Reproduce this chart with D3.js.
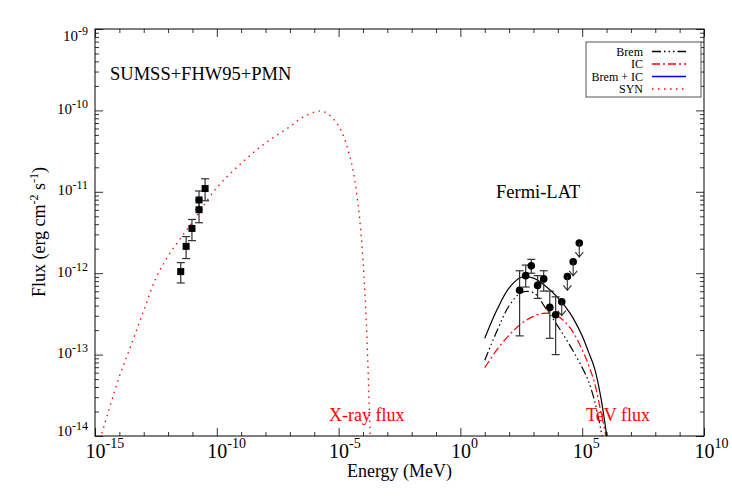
<!DOCTYPE html>
<html>
<head>
<meta charset="utf-8">
<script src="https://cdn.jsdelivr.net/npm/d3@7"></script>
<style>
  body { margin: 0; background: #fff; }
  svg { font-family: "Liberation Serif", "Times New Roman", serif; }
</style>
</head>
<body>
<svg></svg>
<script>
// all values are log10 (energy in MeV, flux in erg cm^-2 s^-1)

// radio points SUMSS+FHW95+PMN
let radioE  = [-11.48, -11.26, -11.02, -10.73, -10.73, -10.48];
let radioF  = [-11.98, -11.67, -11.45, -11.10, -11.22, -10.96];
let radioHi = [-11.87, -11.55, -11.34, -10.99, -11.10, -10.84];
let radioLo = [-12.12, -11.82, -11.60, -11.22, -11.38, -11.11];

// Fermi-LAT points
let fermiE  = [2.43, 2.68, 2.91, 3.17, 3.42, 3.67, 3.91];
let fermiF  = [-12.21, -12.03, -11.91, -12.15, -12.07, -12.42, -12.51];
let fermiHi = [-11.97, -11.90, -11.83, -12.03, -11.97, -12.22, -12.29];
let fermiLo = [-12.77, -12.17, -12.00, -12.31, -12.22, -12.80, -13.00];

// Fermi-LAT upper limits
let ulE = [4.16, 4.39, 4.63, 4.88];
let ulF = [-12.35, -12.04, -11.86, -11.63];

// model curves
let modelE = [1.0, 1.5, 2.0, 2.5, 3.0, 3.5, 4.0, 4.5, 5.0, 5.25, 5.5, 5.75, 6.0, 6.1];
let bremF  = [-13.07, -12.71, -12.40, -12.24, -12.24, -12.43, -12.65, -12.89, -13.16, -13.32, -13.56, -13.90, -14.35, -14.6];
let icF    = [-13.16, -12.94, -12.76, -12.62, -12.53, -12.49, -12.53, -12.67, -12.94, -13.12, -13.34, -13.68, -14.05, -14.3];
let totalF = [-12.80, -12.45, -12.18, -12.05, -12.06, -12.16, -12.30, -12.49, -12.77, -12.96, -13.16, -13.50, -13.98, -14.2];

let synE = [-15.0, -14.75, -14.5, -14.0, -13.5, -13.0, -12.5, -12.0, -11.0, -10.0, -9.0, -8.0, -7.0, -6.5, -6.0, -5.75, -5.5, -5.0, -4.5, -4.2, -4.0, -3.85, -3.75, -3.68];
let synF = [-14.25, -14.0, -13.75, -13.27, -12.87, -12.46, -12.06, -11.79, -11.37, -10.95, -10.65, -10.40, -10.20, -10.09, -10.02, -10.01, -10.03, -10.19, -10.61, -11.16, -11.84, -12.70, -13.56, -14.2];

let xTicks = [-15, -10, -5, 0, 5, 10];
let yTicks = [-14, -13, -12, -11, -10, -9];

let legendNames = ['Brem', 'IC', 'Brem + IC', 'SYN'];

let width = 732;
let height = 496;
let padL = 95, padR = 704, padT = 29, padB = 436;
let red = '#ff0000';

let svg = d3.select('svg').attr('width', width).attr('height', height);

let xScale = d3.scaleLog().domain([1e-15, 1e10]).range([padL, padR]);
let yScale = d3.scaleLog().domain([1e-14, 1e-9]).range([padB, padT]);
let px = (e) => xScale(Math.pow(10, e));
let py = (f) => yScale(Math.pow(10, f));

// clip for the curves
svg.append('clipPath').attr('id', 'plot')
   .append('rect').attr('x', padL).attr('y', padT)
   .attr('width', padR - padL).attr('height', padB - padT);

// ticks
let minorX = d3.range(-15, 11).filter(d => d % 5 !== 0).map(d => Math.pow(10, d));
let majorX = xTicks.map(d => Math.pow(10, d));
let minorY = [];
for (let p = -14; p < -9; p++) {
  for (let m = 2; m < 10; m++) minorY.push(m * Math.pow(10, p));
}
let majorY = yTicks.map(d => Math.pow(10, d));

let addAxis = (axis, tx, ty) => {
  let g = svg.append('g').attr('transform', 'translate(' + tx + ',' + ty + ')').call(axis);
  g.select('.domain').remove();
  g.selectAll('line').attr('stroke', '#333');
  return g;
};

addAxis(d3.axisBottom(xScale).tickValues(minorX).tickSize(-4).tickFormat(''), 0, padB);
addAxis(d3.axisTop(xScale).tickValues(minorX).tickSize(-4).tickFormat(''), 0, padT);
addAxis(d3.axisTop(xScale).tickValues(majorX).tickSize(-8).tickFormat(''), 0, padT);
let gx = addAxis(d3.axisBottom(xScale).tickValues(majorX).tickSize(-8).tickPadding(0), 0, padB);

addAxis(d3.axisLeft(yScale).tickValues(minorY).tickSize(-4).tickFormat(''), padL, 0);
addAxis(d3.axisRight(yScale).tickValues(minorY).tickSize(-4).tickFormat(''), padR, 0);
addAxis(d3.axisRight(yScale).tickValues(majorY).tickSize(-8).tickFormat(''), padR, 0);
let gy = addAxis(d3.axisLeft(yScale).tickValues(majorY).tickSize(-8).tickPadding(0), padL, 0);

// 10^n labels
gx.selectAll('text').each(function(d) {
  let t = d3.select(this);
  let p = Math.round(Math.log10(d));
  t.text('').attr('y', 22).attr('x', -10).attr('dy', null)
   .attr('text-anchor', 'start').attr('font-size', 20).attr('fill', '#000')
   .attr('font-family', '"Liberation Serif", serif');
  t.append('tspan').text('10');
  t.append('tspan').attr('dy', -10).attr('font-size', 14).text(p);
});
gy.selectAll('text').each(function(d) {
  let t = d3.select(this);
  let p = Math.round(Math.log10(d));
  // end labels are kept inside the frame, as in the original
  let base = 3;
  if (p === -9) base = 11;
  if (p === -14) base = -1;
  t.text('').attr('x', -7).attr('dy', null).attr('y', base)
   .attr('text-anchor', 'end').attr('font-size', 15).attr('fill', '#000')
   .attr('font-family', '"Liberation Serif", serif');
  t.append('tspan').text('10');
  t.append('tspan').attr('dy', -6).attr('font-size', 12).text(p);
});

// frame
svg.append('rect').attr('x', padL).attr('y', padT)
   .attr('width', padR - padL).attr('height', padB - padT)
   .attr('fill', 'none').attr('stroke', '#000').attr('stroke-width', 1);

// curves
let line = d3.line()
  .x(d => px(d[0]))
  .y(d => py(d[1]))
  .curve(d3.curveCatmullRom);

let curves = svg.append('g').attr('clip-path', 'url(#plot)');
curves.append('path').datum(d3.zip(synE, synF))
  .attr('d', line).attr('fill', 'none').attr('stroke', red)
  .attr('stroke-width', 1.3).attr('stroke-dasharray', '1.5,4.5');
curves.append('path').datum(d3.zip(modelE, icF))
  .attr('d', line).attr('fill', 'none').attr('stroke', red)
  .attr('stroke-width', 1.2).attr('stroke-dasharray', '8,3,2,3');
curves.append('path').datum(d3.zip(modelE, bremF))
  .attr('d', line).attr('fill', 'none').attr('stroke', '#000')
  .attr('stroke-width', 1.2).attr('stroke-dasharray', '9,3,1.5,3,1.5,3,1.5,3');
curves.append('path').datum(d3.zip(modelE, totalF))
  .attr('d', line).attr('fill', 'none').attr('stroke', '#000')
  .attr('stroke-width', 1.2);

// error bars
let drawErrors = (E, Hi, Lo) => {
  let g = svg.append('g').attr('stroke', '#333').attr('stroke-width', 1.2);
  E.forEach((e, i) => {
    let x = px(e);
    g.append('line').attr('x1', x).attr('x2', x).attr('y1', py(Hi[i])).attr('y2', py(Lo[i]));
    g.append('line').attr('x1', x - 4).attr('x2', x + 4).attr('y1', py(Hi[i])).attr('y2', py(Hi[i]));
    g.append('line').attr('x1', x - 4).attr('x2', x + 4).attr('y1', py(Lo[i])).attr('y2', py(Lo[i]));
  });
};
drawErrors(radioE, radioHi, radioLo);
drawErrors(fermiE, fermiHi, fermiLo);

svg.append('g').selectAll('rect').data(d3.zip(radioE, radioF)).enter().append('rect')
  .attr('x', d => px(d[0]) - 3.5).attr('y', d => py(d[1]) - 3.5)
  .attr('width', 7).attr('height', 7).attr('fill', '#000');

svg.append('g').selectAll('circle').data(d3.zip(fermiE, fermiF)).enter().append('circle')
  .attr('cx', d => px(d[0])).attr('cy', d => py(d[1])).attr('r', 3.8).attr('fill', '#000');

// upper limits
let ul = svg.append('g');
d3.zip(ulE, ulF).forEach(d => {
  let x = px(d[0]), y = py(d[1]);
  ul.append('circle').attr('cx', x).attr('cy', y).attr('r', 3.8).attr('fill', '#000');
  ul.append('path')
    .attr('d', 'M' + x + ',' + y + 'V' + (y + 14) + 'M' + (x - 4) + ',' + (y + 9) + 'L' + x + ',' + (y + 14) + 'L' + (x + 4) + ',' + (y + 9))
    .attr('fill', 'none').attr('stroke', '#333').attr('stroke-width', 1.1);
});

// texts
svg.append('text').attr('x', 110).attr('y', 80).attr('font-size', 18.5).text('SUMSS+FHW95+PMN');
svg.append('text').attr('x', 496).attr('y', 198).attr('font-size', 18.5).text('Fermi-LAT');
svg.append('text').attr('x', 329).attr('y', 421).attr('font-size', 18).attr('fill', red).text('X-ray flux');
svg.append('text').attr('x', 586).attr('y', 421).attr('font-size', 18).attr('fill', red).text('TeV flux');

svg.append('text').attr('x', 399.5).attr('y', 477).attr('text-anchor', 'middle')
   .attr('font-size', 18).text('Energy (MeV)');

let yt = svg.append('text').attr('transform', 'translate(45,232) rotate(-90)')
   .attr('text-anchor', 'middle').attr('font-size', 18);
yt.append('tspan').text('Flux (erg cm');
yt.append('tspan').attr('dy', -7).attr('font-size', 12).text('-2');
yt.append('tspan').attr('dy', 7).text(' s');
yt.append('tspan').attr('dy', -7).attr('font-size', 12).text('-1');
yt.append('tspan').attr('dy', 7).text(')');

// legend
let lg = svg.append('g');
lg.append('rect').attr('x', 586).attr('y', 42).attr('width', 115).attr('height', 55)
  .attr('fill', '#fff').attr('stroke', '#555').attr('stroke-width', 1);
let legendStyles = [
  {stroke: '#000', dash: '9,3,1.5,3,1.5,3,1.5,3'},
  {stroke: red, dash: '8,3,2,3'},
  {stroke: '#0000ff', dash: null},
  {stroke: red, dash: '1.5,4.5'}
];
let rowY = [51.5, 64, 76.5, 89];
legendNames.forEach((name, i) => {
  lg.append('text').attr('x', 643).attr('y', rowY[i] + 4).attr('text-anchor', 'end')
    .attr('font-size', 12).text(name);
  lg.append('line').attr('x1', 652).attr('x2', 686).attr('y1', rowY[i]).attr('y2', rowY[i])
    .attr('stroke', legendStyles[i].stroke).attr('stroke-width', 1.3)
    .attr('stroke-dasharray', legendStyles[i].dash);
});
</script>
</body>
</html>
